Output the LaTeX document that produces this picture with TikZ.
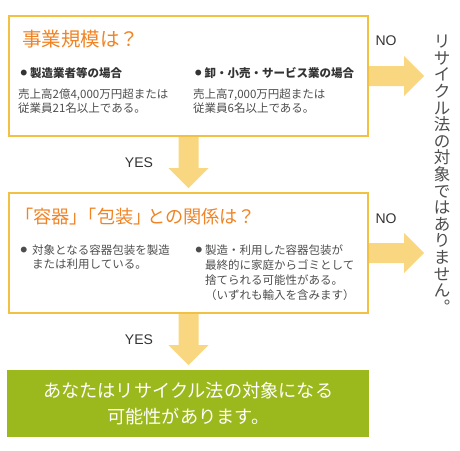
\documentclass[tikz,border=0pt]{standalone}
\usepackage{fontspec}
\setmainfont{Noto Sans CJK JP}
\newfontfamily\latinsans{Liberation Sans}
\usepackage{xcolor}
\usetikzlibrary{positioning, calc, backgrounds}

\definecolor{frameyellow}{HTML}{F2C144}
\definecolor{arrowyellow}{HTML}{F9D780}
\definecolor{titleorange}{HTML}{F08323}
\definecolor{leafgreen}{HTML}{9BB81D}
\definecolor{textdark}{HTML}{333333}
\definecolor{textgray}{HTML}{4D4D4D}

% small bullet in front of each case
\newcommand{\bul}{\raisebox{1.6pt}{\fontsize{6.5}{6.5}\selectfont ●}\hspace{3pt}}

% block arrows between the boxes
\newcommand{\downflow}[2]{%
  \fill[flow] let \p1=(#1), \p2=(#2) in
    (\x1-10pt,\y1) -- (\x1+10pt,\y1) -- (\x1+10pt,\y2+20pt) -- (\x1+20pt,\y2+20pt)
    -- (\x1,\y2) -- (\x1-20pt,\y2+20pt) -- (\x1-10pt,\y2+20pt) -- cycle;}
\newcommand{\rightflow}[2]{%
  \fill[flow] let \p1=(#1), \p2=(#2) in
    (\x1,\y1+10pt) -- (\x2-20pt,\y1+10pt) -- (\x2-20pt,\y1+20pt) -- (\x2,\y1)
    -- (\x2-20pt,\y1-20pt) -- (\x2-20pt,\y1-10pt) -- (\x1,\y1-10pt) -- cycle;}

\begin{document}
\begin{tikzpicture}[
    x=1pt, y=1pt,
    qbox/.style={draw=frameyellow, line width=2pt, minimum width=359pt, minimum height=120pt, anchor=north west, inner sep=0pt},
    qtitle/.style={anchor=west, inner sep=0pt, text=titleorange, font=\fontsize{19.5}{20}\selectfont},
    casehead/.style={anchor=west, inner sep=0pt, text=textdark, font=\bfseries\fontsize{11.5}{13}\selectfont},
    body/.style={anchor=west, inner sep=0pt, align=left, text=textgray, font=\fontsize{11.5}{13.4}\selectfont},
    bodydot/.style={anchor=west, inner sep=0pt, text=textgray, font=\fontsize{6.5}{6.5}\selectfont},
    yesno/.style={inner sep=0pt, text=textdark, font=\latinsans\fontsize{14}{14}\selectfont},
    result/.style={fill=leafgreen, minimum width=362pt, minimum height=67pt, anchor=north west, inner sep=0pt, align=center, text=white, font=\fontsize{18.2}{25.7}\selectfont},
    verdict/.style={inner sep=0pt, align=center, text=textgray, font=\fontsize{16.5}{16.6}\selectfont},
    flow/.style={fill=arrowyellow}
]
\useasboundingbox (0,0) rectangle (460,-450);

% question 1: size of business
\node[qbox] (scale) at (8,-15) {};
\node[qtitle] (scaletitle) at (22,-39.3) {事業規模は？};
\node[casehead] (makercase) at (20.5,-72.7) {\bul 製造業者等の場合};
\node[casehead] (tradecase) at (195,-72.7) {\bul 卸・小売・サービス業の場合};
\node[body] (makerbody) at (18,-101) {売上高2億4,000万円超または\\従業員21名以上である。};
\node[body] (tradebody) at (193,-101) {売上高7,000万円超または\\従業員6名以上である。};

% question 2: containers and packaging
\node[qbox] (relation) at (8,-192) {};
\node[qtitle, font=\fontsize{18.2}{18.5}\selectfont] (relationtitle) at (15,-216.7) {「容器」\kern-0.5em「包装」\kern-0.25em との関係は？};
\node[bodydot] (usedot) at (20.5,-250) {●};
\node[body] (usebody) at (32,-257.2) {対象となる容器包装を製造\\または利用している。};
\node[bodydot] (wastedot) at (195.5,-250) {●};
\node[body, font=\fontsize{11.5}{15.2}\selectfont] (wastebody) at (205,-272.7) {製造・利用した容器包装が\\最終的に家庭からゴミとして\\捨てられる可能性がある。\\（いずれも輸入を含みます）};

% outcomes
\node[result] (result) at (7,-370) {あなたはリサイクル法の対象になる\\可能性があります。};
\node[verdict] (notcovered) at (442,-174.3) {リ\\サ\\イ\\ク\\ル\\法\\の\\対\\象\\で\\は\\あ\\り\\ま\\せ\\ん\\︒};

\coordinate (yestip1) at ($(relation.north)+(0,4)$);
\coordinate (yestip2) at ($(result.north)+(0,5)$);
\coordinate (notip1) at (424,0);
\coordinate (notip2) at (424,0);

\begin{scope}[on background layer]
\downflow{scale.south}{yestip1}
\downflow{relation.south}{yestip2}
\rightflow{scale.east}{notip1}
\rightflow{relation.east}{notip2}
\end{scope}

\node[yesno] (yes1) at (139,-162.7) {YES};
\node[yesno] (yes2) at (139,-339.3) {YES};
\node[yesno] (no1) at (386,-41) {NO};
\node[yesno] (no2) at (386,-218.3) {NO};
\end{tikzpicture}
\end{document}
